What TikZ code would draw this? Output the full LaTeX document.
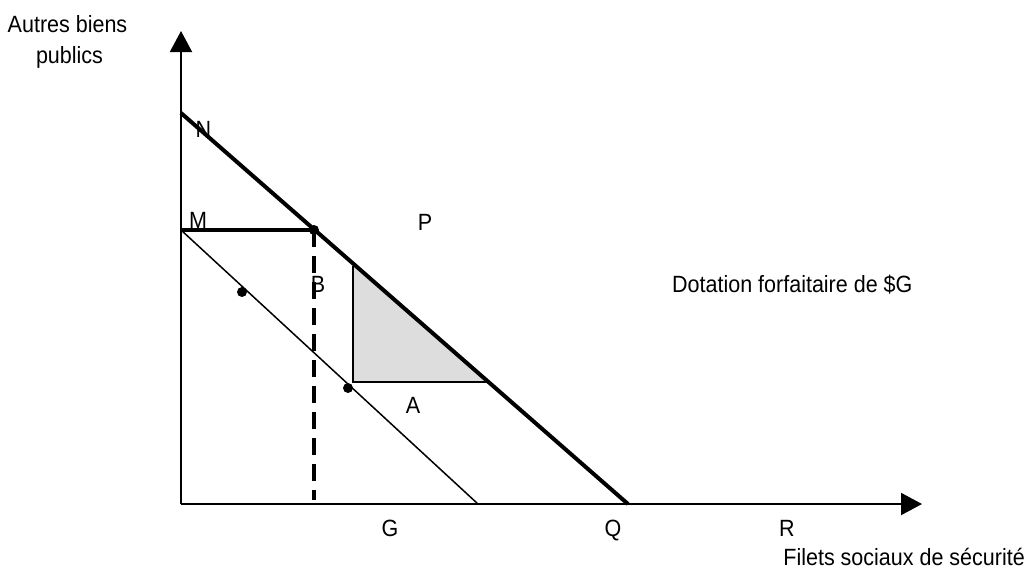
\documentclass[tikz,border=0pt]{standalone}
\usepackage{fontspec}
\setmainfont{Liberation Sans}[FakeStretch=0.915]
\usetikzlibrary{arrows.meta}
\begin{document}
\begin{tikzpicture}[x=1pt,y=-1pt,
  lab/.style={font=\fontsize{23.5}{28}\selectfont, inner sep=0pt, anchor=base},
  axisline/.style={line width=2pt, -{Triangle[length=21pt,width=22pt]}},
  thickline/.style={line width=4pt},
  thinline/.style={line width=1.5pt},
  dashline/.style={line width=4pt, dash pattern=on 17pt off 9pt},
  dotmark/.style={circle, fill=black, inner sep=0pt, minimum size=10pt},
  boxside/.style={line width=2pt}]
\useasboundingbox (0,0) rectangle (1027,568);
% coordinates
\coordinate (O) at (181,504);
\coordinate (Ytop) at (181,31);
\coordinate (Xtop) at (922,504);
\coordinate (Npt) at (181,113);
\coordinate (Qpt) at (628,504);
\coordinate (Mpt) at (181,230);
\coordinate (Bpt) at (314,230);
\coordinate (Bbase) at (314,500);
\coordinate (Gpt) at (478,504);
\coordinate (T1) at (353,266);
\coordinate (T2) at (353,382);
\coordinate (T3) at (488,382);
% shaded triangle
\fill[fill={rgb,255:red,221;green,221;blue,221}] (T1) -- (T2) -- (T3) -- cycle;
\draw[boxside] (T1) -- (T2) -- (T3);
% axes
\draw[axisline] (O) -- (Ytop);
\draw[axisline] (O) -- (Xtop);
% lines
\draw[thickline] (Npt) -- (Qpt);
\draw[thickline] (Mpt) -- (Bpt);
\draw[thinline] (Mpt) -- (Gpt);
\draw[dashline] (Bpt) -- (Bbase);
% dots
\node[dotmark] (dB) at (Bpt) {};
\node[dotmark] (d1) at (242,292) {};
\node[dotmark] (d2) at (348,388) {};
% labels
\node[lab] (ylab1) at (67.5,32) {Autres biens};
\node[lab] (ylab2) at (69.5,63) {publics};
\node[lab] (labN) at (203.5,137) {N};
\node[lab] (labM) at (198,228) {M};
\node[lab] (labP) at (425,230) {P};
\node[lab] (labB) at (318,292) {B};
\node[lab] (labA) at (413,413) {A};
\node[lab] (labG) at (390,536) {G};
\node[lab] (labQ) at (613,536) {Q};
\node[lab] (labR) at (787,536) {R};
\node[lab, anchor=base west] (dot) at (672,292) {Dotation forfaitaire de \$G};
\node[lab, anchor=base east] (xlab) at (1025,565) {Filets sociaux de sécurité};
\end{tikzpicture}
\end{document}
